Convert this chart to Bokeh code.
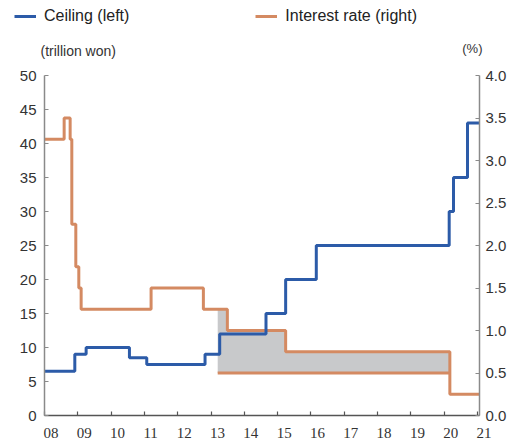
from bokeh.plotting import figure
from bokeh.layouts import column
from bokeh.models import (Range1d, LinearAxis, FixedTicker, Legend, LegendItem, Label,
                          LabelSet, ColumnDataSource, NumeralTickFormatter, CustomJSTickFormatter)
from bokeh.embed import file_html
from bokeh.resources import INLINE

# ---- data ----
years = list(range(2008, 2022))
year_labels = ["08", "09", "10", "11", "12", "13", "14", "15", "16", "17", "18", "19", "20", "21"]
left_ticks = [0, 5, 10, 15, 20, 25, 30, 35, 40, 45, 50]
right_ticks = [0.0, 0.5, 1.0, 1.5, 2.0, 2.5, 3.0, 3.5, 4.0]

ceiling_x = [2008.00, 2008.91, 2009.25, 2010.55, 2011.07, 2012.82, 2013.26, 2014.65,
             2015.24, 2016.16, 2020.15, 2020.28, 2020.70, 2021.06]
ceiling_v = [6.5, 9, 10, 8.5, 7.5, 9, 12, 15, 20, 25, 30, 35, 43, 43]

rate_x = [2008.00, 2008.59, 2008.77, 2008.82, 2008.94, 2009.03, 2009.10, 2011.20,
          2012.77, 2013.49, 2015.24, 2020.17, 2021.06]
rate_v = [3.25, 3.50, 3.25, 2.25, 1.75, 1.50, 1.25, 1.50, 1.25, 1.00, 0.75, 0.25, 0.25]

low_x = [2013.20, 2020.17]
low_v = [0.5, 0.5]

spread_x = [2013.20, 2013.49, 2015.24, 2020.17]
spread_top = [1.25, 1.00, 0.75, 0.75]
spread_floor = [0.5, 0.5, 0.5, 0.5]

BLUE = "#2c5ba8"
ORANGE = "#d48a62"
GREY = "#c8c9cb"
FONT = "Liberation Sans"
TXT = "#333333"

W = 513
X0, X1 = 2008, 2021.06
FL, FR = 44, 34          # main frame borders left/right (px)


def blank(h, xr, yr):
    f = figure(width=W, height=h, x_range=xr, y_range=yr, output_backend="svg",
               toolbar_location=None, x_axis_location=None, y_axis_location=None,
               min_border=0, outline_line_color=None, frame_align=False,
               background_fill_color="white", border_fill_color="white")
    f.grid.visible = False
    return f


# ---- top strip: legend and unit captions (pixel coordinates) ----
top = blank(60, Range1d(0, W), Range1d(60, 0))
# series keys for the legend (their data lies outside this strip's visible range)
k_ceil = top.step(ceiling_x, ceiling_v, mode="after", line_color=BLUE, line_width=3)
k_rate = top.step(rate_x, rate_v, mode="after", line_color=ORANGE, line_width=3)
legend = Legend(items=[LegendItem(label="Ceiling (left)", renderers=[k_ceil]),
                       LegendItem(label="Interest rate (right)", renderers=[k_rate])],
                location=(14, 35), orientation="horizontal", spacing=126,
                glyph_width=22, glyph_height=16, label_height=16, label_standoff=8,
                padding=0, margin=0, border_line_color=None, background_fill_alpha=0,
                label_text_font=FONT, label_text_font_size="16px", label_text_color="#222222")
top.add_layout(legend)
top.add_layout(Label(x=40, y=50, text="(trillion won)", text_align="left",
                     text_baseline="middle", text_font=FONT, text_font_size="14px",
                     text_color=TXT))
top.add_layout(Label(x=482, y=48, text="(%)", text_align="right",
                     text_baseline="middle", text_font=FONT, text_font_size="13px",
                     text_color=TXT))

# ---- main chart ----
p = figure(width=W, height=363, x_range=Range1d(X0, X1), y_range=Range1d(0, 50),
           output_backend="svg", toolbar_location=None, frame_align=False,
           min_border_left=FL, min_border_right=FR, min_border_top=15, min_border_bottom=8,
           outline_line_color=None, background_fill_color="white", border_fill_color="white")
p.grid.visible = False
p.extra_y_ranges = {"rate": Range1d(0, 4)}

p.varea_step(x=spread_x, y1=spread_floor, y2=spread_top, step_mode="after",
             fill_color=GREY, y_range_name="rate")
p.line(low_x, low_v, line_color=ORANGE, line_width=3, y_range_name="rate")
p.step(rate_x, rate_v, mode="after", line_color=ORANGE, line_width=3, y_range_name="rate")
p.step(ceiling_x, ceiling_v, mode="after", line_color=BLUE, line_width=3)

yl = p.yaxis[0]
yl.ticker = FixedTicker(ticks=left_ticks)
right = LinearAxis(y_range_name="rate", ticker=FixedTicker(ticks=right_ticks),
                   formatter=NumeralTickFormatter(format="0.0"))
p.add_layout(right, "right")
for ax in (yl, right):
    ax.major_tick_in = 4
    ax.major_tick_out = 0
    ax.minor_tick_line_color = None
    ax.axis_line_color = "#8a8a8a"
    ax.axis_line_width = 1.5
    ax.major_tick_line_color = "#8a8a8a"
    ax.major_tick_line_width = 1.2
    ax.major_label_text_font = FONT
    ax.major_label_text_font_size = "15px"
    ax.major_label_text_color = TXT
yl.major_label_standoff = 8
right.major_label_standoff = 6

xa = p.xaxis[0]
xa.ticker = FixedTicker(ticks=years)
xa.formatter = CustomJSTickFormatter(code="return ''")
xa.major_label_text_font_size = "1px"
xa.major_label_standoff = 0
xa.major_tick_in = 4
xa.major_tick_out = 0
xa.minor_tick_line_color = None
xa.axis_line_color = "#555555"
xa.axis_line_width = 1.5
xa.major_tick_line_color = "#555555"
xa.major_tick_line_width = 1.2

# ---- bottom strip: year labels (same px-per-year as the main frame) ----
ppy = (W - FL - FR) / (X1 - X0)
bot = blank(22, Range1d(X0 - FL / ppy, X1 + FR / ppy), Range1d(22, 0))
src = ColumnDataSource(dict(x=years, text=year_labels))
bot.add_layout(LabelSet(x="x", y=4, text="text", source=src, text_align="left",
                        text_baseline="top", x_offset=-1, text_font=FONT,
                        text_font_size="15px", text_color=TXT))

layout = column(top, p, bot, spacing=0)
open("out.html", "w").write(file_html(layout, INLINE))
